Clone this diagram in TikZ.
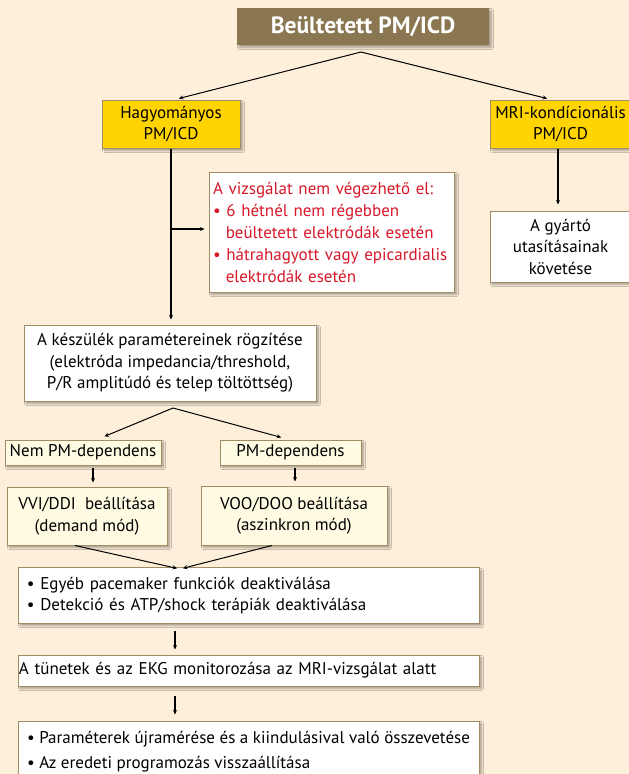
\documentclass[tikz,border=0pt]{standalone}
\usepackage{fontspec}
\setmainfont{PT Sans}
\usetikzlibrary{arrows.meta, shadows.blur}
\tikzset{>={Stealth[length=4.5pt, width=4pt]}}
\definecolor{bgcream}{RGB}{253,239,217}
\definecolor{titlebrown}{RGB}{138,118,80}
\definecolor{boxgold}{RGB}{255,212,0}
\definecolor{boxcream}{RGB}{255,251,227}
\definecolor{boxedge}{RGB}{160,140,100}
\definecolor{warnred}{RGB}{215,24,42}
\tikzset{
  box/.style={draw=boxedge, line width=1pt, inner sep=2pt, align=center,
    blur shadow={shadow xshift=2.5pt, shadow yshift=-2.5pt, shadow blur steps=6, shadow opacity=35}},
  goldbox/.style={box, fill=boxgold},
  creambox/.style={box, fill=boxcream},
  whitebox/.style={box, fill=white},
  arr/.style={->, line width=1pt},
}

\begin{document}
\begin{tikzpicture}[x=1pt, y=1pt, font=\fontsize{17}{21.5}\selectfont]
    \fill [bgcream] (0,0) rectangle (629,-774);
    \useasboundingbox (0,0) rectangle (629,-774);
    % top
    \node [box, fill=titlebrown, draw=none, minimum width=252pt, minimum height=37pt, text=white,
      font=\fontsize{23.5}{26}\selectfont\bfseries] (top) at (363,-26.5) {Beültetett PM/ICD};
    \node [goldbox, minimum width=138pt, minimum height=48pt] (hagy) at (171,-124) {Hagyományos\\PM/ICD};
    \node [goldbox, minimum width=141pt, minimum height=48pt] (mricond) at (560.5,-124) {MRI-kondícionális\\PM/ICD};
    % left branch
    \node [whitebox, minimum width=245pt, minimum height=120pt, text width=237pt, inner sep=4pt, align=left,
      text=warnred, font=\fontsize{17}{22}\selectfont] (tilt) at (331.5,-232)
      {A vizsgálat nem végezhető el:\\
       \textbullet\ 6 hétnél nem régebben\\
       \hspace*{0.75em}beültetett elektródák esetén\\
       \textbullet\ hátrahagyott vagy epicardialis\\
       \hspace*{0.75em}elektródák esetén};
    \node [whitebox, minimum width=141pt, minimum height=71pt] (gyarto) at (560.5,-246.5) {A gyártó\\utasításainak\\követése};
    \node [whitebox, minimum width=292pt, minimum height=76pt] (rogzit) at (170,-363)
      {A készülék paramétereinek rögzítése\\(elektróda impedancia/threshold,\\P/R amplitúdó és telep töltöttség)};
    \node [creambox, minimum width=156pt, minimum height=25pt, inner sep=1pt] (nemdep) at (83,-452.5) {Nem PM-dependens};
    \node [creambox, minimum width=141pt, minimum height=25pt] (dep) at (290.5,-452.5) {PM-dependens};
    \node [creambox, minimum width=160pt, minimum height=58pt] (vvi) at (87,-516) {VVI/DDI\ \ beállítása\\(demand mód)};
    \node [creambox, minimum width=186pt, minimum height=59pt] (voo) at (294,-515.5) {VOO/DOO beállítása\\(aszinkron mód)};
    % common steps
    \node [whitebox, minimum width=461pt, minimum height=53pt, text width=443pt, inner sep=9pt, align=left] (deakt) at (248.5,-595.5)
      {\textbullet\ Egyéb pacemaker funkciók deaktiválása\\
       \textbullet\ Detekció és ATP/shock terápiák deaktiválása};
    \node [whitebox, minimum width=461pt, minimum height=31pt, text width=459pt, inner sep=1pt, align=left] (monit) at (248.5,-670.5)
      {A tünetek és az EKG monitorozása az MRI-vizsgálat alatt};
    \node [whitebox, minimum width=461pt, minimum height=62pt, inner sep=2pt, align=left,
      font=\fontsize{17}{25}\selectfont] (ujra) at (248.5,-752)
      {\textbullet\ Paraméterek újramérése és a kiindulásival való összevetése\\
       \textbullet\ Az eredeti programozás visszaállítása};
    % connectors
    \coordinate (topfork) at (361,-52);
    \coordinate (hagyin) at (173,-100);
    \coordinate (mriin) at (553,-100);
    \draw [arr, shorten >=6pt] (topfork) -- (hagyin);
    \draw [arr, shorten >=6pt] (topfork) -- (mriin);
    \coordinate (split) at (171,-229);
    \draw [arr, line width=1.6pt, shorten >=5pt] (hagy.south -| split) -- (rogzit.north -| split);
    \draw [arr, line width=1.4pt, shorten >=4pt] (split) -- (tilt.west |- split);
    \draw [arr, line width=1.6pt, shorten >=6pt] (mricond.south -| 558,0) -- (gyarto.north -| 558,0);
    \coordinate (midfork) at (173,-408);
    \draw [arr, shorten >=8pt] (midfork) -- (nemdep.north -| 97,0);
    \draw [arr, shorten >=8pt] (midfork) -- (dep.north -| 289,0);
    \draw [arr, line width=1.4pt, shorten <=2pt, shorten >=4pt] (nemdep.south -| 93,0) -- (vvi.north -| 93,0);
    \draw [arr, line width=1.4pt, shorten <=2pt, shorten >=4pt] (dep.south -| 295,0) -- (voo.north -| 295,0);
    \coordinate (merge) at (180,-569);
    \draw [arr, shorten >=3pt] (vvi.south -| 75,0) -- (merge);
    \draw [arr, shorten >=3pt] (voo.south -| 272,0) -- (merge);
    \draw [arr, line width=1.3pt, shorten <=7pt, shorten >=5pt] (deakt.south -| 175,0) -- (monit.north -| 175,0);
    \draw [arr, line width=1.3pt, shorten <=9pt, shorten >=6pt] (monit.south -| 175,0) -- (ujra.north -| 175,0);
\end{tikzpicture}
\end{document}
